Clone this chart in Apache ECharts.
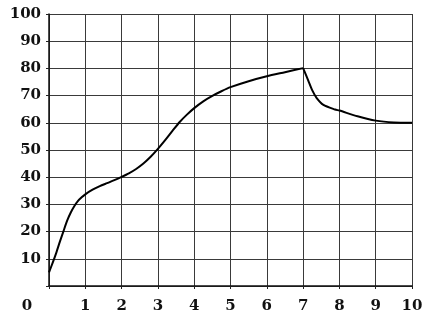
<!DOCTYPE html>
<html>
<head>
<meta charset="utf-8">
<script src="https://cdn.jsdelivr.net/npm/echarts@6/dist/echarts.min.js"></script>
<style>html,body{margin:0;padding:0;background:#fff}#c{width:431px;height:322px}</style>
</head>
<body>
<div id="c"></div>
<script>
// Rising part of the curve (x, value)
var riseX = [0, 0.1, 0.2, 0.3, 0.4, 0.5, 0.6, 0.7, 0.8, 0.9, 1.0, 1.2, 1.4, 1.6, 1.8, 2.0, 2.2, 2.4, 2.6, 2.8, 3.0, 3.2, 3.4, 3.6, 3.8, 4.0, 4.25, 4.5, 4.75, 5.0, 5.5, 6.0, 6.5, 7.0];
var riseY = [5, 8.5, 12.2, 16.3, 20.2, 24, 27, 29.4, 31.3, 32.6, 33.7, 35.4, 36.7, 37.8, 38.9, 40.1, 41.4, 43, 45, 47.5, 50.4, 53.6, 57, 60.3, 63, 65.4, 67.9, 69.9, 71.6, 73.1, 75.3, 77.1, 78.6, 80.1];
// Falling part of the curve (x, value)
var fallX = [7.0, 7.14, 7.25, 7.37, 7.56, 7.88, 8.0, 8.5, 9.0, 9.5, 10];
var fallY = [80.1, 75.6, 72.0, 69.2, 66.6, 64.9, 64.5, 62.4, 60.8, 60.1, 60];
// Axis ticks
var xTicks = [0, 1, 2, 3, 4, 5, 6, 7, 8, 9, 10];
var yTicks = [0, 10, 20, 30, 40, 50, 60, 70, 80, 90, 100];

function pairs(xs, ys) { return xs.map(function (x, i) { return [x, ys[i]]; }); }

var labelFont = { fontFamily: 'DejaVu Serif', fontWeight: 'bold', fontSize: 15, color: '#111' };
var gridLine = { show: true, lineStyle: { color: '#3a3a3a', width: 1 } };

var chart = echarts.init(document.getElementById('c'), null, { renderer: 'canvas' });
chart.setOption({
  animation: false,
  backgroundColor: '#fff',
  grid: { left: 49, right: 19, top: 14, bottom: 36, containLabel: false, outerBoundsMode: 'none' },
  xAxis: {
    type: 'value', min: xTicks[0], max: xTicks[xTicks.length - 1], interval: 1,
    axisLine: { show: true, onZero: false, lineStyle: { color: '#111', width: 1.5 } },
    axisTick: { show: true, inside: false, length: 3, lineStyle: { color: '#222' } },
    splitLine: gridLine,
    axisLabel: Object.assign({
      margin: 13,
      formatter: function (v) { return v === 0 ? '{z|0}' : String(v); },
      rich: { z: Object.assign({ padding: [0, 44, 4, 0] }, labelFont) }
    }, labelFont)
  },
  yAxis: {
    type: 'value', min: yTicks[0], max: yTicks[yTicks.length - 1], interval: 10,
    axisLine: { show: true, onZero: false, lineStyle: { color: '#111', width: 1.5 } },
    axisTick: { show: true, inside: false, length: 3, lineStyle: { color: '#222' } },
    splitLine: gridLine,
    axisLabel: Object.assign({
      margin: 8,
      formatter: function (v) { return v === 0 ? '' : String(v); }
    }, labelFont)
  },
  series: [
    { type: 'line', data: pairs(riseX, riseY), smooth: 0.25, showSymbol: false, symbol: 'none',
      lineStyle: { color: '#000', width: 2 }, z: 5 },
    { type: 'line', data: pairs(fallX, fallY), smooth: 0.25, showSymbol: false, symbol: 'none',
      lineStyle: { color: '#000', width: 2 }, z: 5 }
  ]
});
</script>
</body>
</html>
